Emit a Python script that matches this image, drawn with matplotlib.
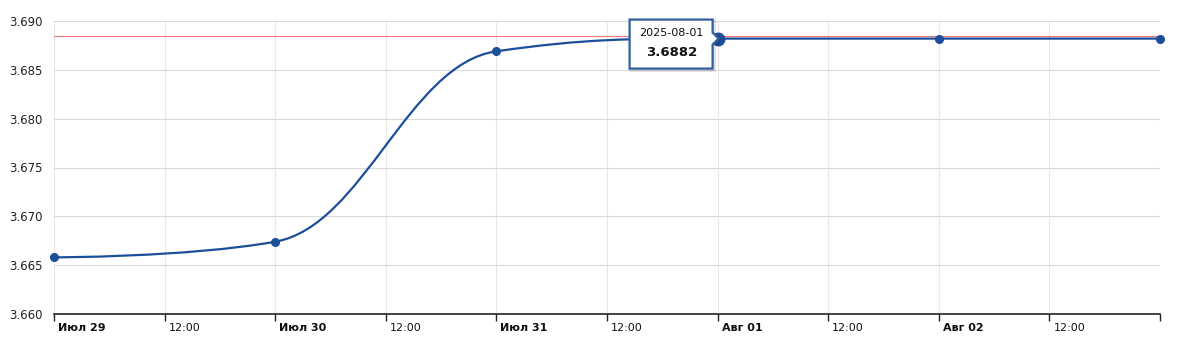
import matplotlib
matplotlib.use('Agg')
import matplotlib.pyplot as plt
import matplotlib.dates as mdates
import matplotlib.transforms as mtransforms
from matplotlib.path import Path
from matplotlib.patches import PathPatch, Polygon
import numpy as np
import pandas as pd

# data
dates = ['2025-07-29', '2025-07-30', '2025-07-31', '2025-08-01', '2025-08-02', '2025-08-03']
rates = [3.6658, 3.6674, 3.6869, 3.6882, 3.6882, 3.6882]
ref_level = 3.6885
hover_index = 3
tick_times = pd.date_range('2025-07-29', '2025-08-03', freq='12h')
tick_labels = ['Июл 29', '12:00', 'Июл 30', '12:00', 'Июл 31', '12:00',
               'Авг 01', '12:00', 'Авг 02', '12:00', '']
y_ticks = [3.660, 3.665, 3.670, 3.675, 3.680, 3.685, 3.690]

line_color = '#1c4f9a'


def spline_path(xs, ys, smoothing=1.5):
    ''' bezier spline like the web chart draws it '''
    n = len(xs)
    denom = smoothing + 1
    right = [None] * n
    left = [None] * n
    for i in range(1, n - 1):
        x, y = xs[i], ys[i]
        lx, ly = xs[i - 1], ys[i - 1]
        nx, ny = xs[i + 1], ys[i + 1]
        lcx = (smoothing * x + lx) / denom
        lcy = (smoothing * y + ly) / denom
        rcx = (smoothing * x + nx) / denom
        rcy = (smoothing * y + ny) / denom
        corr = (rcy - lcy) * (rcx - x) / (rcx - lcx) + y - rcy
        lcy += corr
        rcy += corr
        if lcy > ly and lcy > y:
            lcy = max(ly, y); rcy = 2 * y - lcy
        elif lcy < ly and lcy < y:
            lcy = min(ly, y); rcy = 2 * y - lcy
        if rcy > ny and rcy > y:
            rcy = max(ny, y); lcy = 2 * y - rcy
        elif rcy < ny and rcy < y:
            rcy = min(ny, y); lcy = 2 * y - rcy
        left[i] = (lcx, lcy)
        right[i] = (rcx, rcy)
    verts = [(xs[0], ys[0])]
    codes = [Path.MOVETO]
    for i in range(1, n):
        c1 = right[i - 1] if right[i - 1] is not None else (xs[i - 1], ys[i - 1])
        c2 = left[i] if left[i] is not None else (xs[i], ys[i])
        verts += [c1, c2, (xs[i], ys[i])]
        codes += [Path.CURVE4] * 3
    return Path(verts, codes)


fig = plt.figure(figsize=(11.85, 3.43), dpi=100)
ax = fig.add_axes([54 / 1185, 1 - 314 / 343, (1160 - 54) / 1185, (314 - 21) / 343])

xs = mdates.date2num(pd.to_datetime(dates))
ax.set_xlim(xs[0], xs[-1])
ax.set_ylim(3.660, 3.690)

# grid
ax.set_yticks(y_ticks)
ax.set_yticklabels(['%.3f' % v for v in y_ticks])
ax.set_xticks(mdates.date2num(tick_times))
ax.set_xticklabels(tick_labels)
ax.yaxis.grid(True, color='#d9d9d9', linewidth=0.8)
ax.xaxis.grid(True, color='#e8e8e8', linewidth=0.8)
ax.set_axisbelow(True)
for s in ['top', 'right', 'left']:
    ax.spines[s].set_visible(False)
ax.spines['bottom'].set_color('#222222')
ax.spines['bottom'].set_linewidth(1.2)
ax.tick_params(axis='y', length=0, pad=8, labelsize=8.5, labelcolor='#222222')
ax.tick_params(axis='x', length=5, width=1, color='#222222', pad=1.5,
               labelsize=8, labelcolor='#111111')
shift = mtransforms.ScaledTranslation(4 / 100, 0, fig.dpi_scale_trans)
for lab, txt in zip(ax.get_xticklabels(), tick_labels):
    lab.set_horizontalalignment('left')
    lab.set_transform(lab.get_transform() + shift)
    if txt != '12:00':
        lab.set_fontweight('bold')

# reference line
ax.axhline(ref_level, color='#f07878', linewidth=0.8, zorder=2)

# series
path = spline_path(list(xs), rates)
ax.add_patch(PathPatch(path, fill=False, edgecolor=line_color, linewidth=1.6, zorder=3))
ax.plot(xs, rates, 'o', color=line_color, markersize=5.5, zorder=4, clip_on=False)
ax.plot(xs[hover_index], rates[hover_index], 'o', color=line_color, markersize=9,
        zorder=5, clip_on=False)

# tooltip
hx, hy = xs[hover_index], rates[hover_index]
tt = mtransforms.IdentityTransform() + mtransforms.ScaledTranslation(hx, hy, ax.transData)
box = [(-88, 19), (-5, 19), (-5, 6), (1, 0), (-5, -6), (-5, -30), (-88, -30)]
shadow = mtransforms.IdentityTransform() + mtransforms.ScaledTranslation(hx, hy, ax.transData) \
    + mtransforms.Affine2D().translate(1.5, -1.5)
ax.add_patch(Polygon(box, closed=True, facecolor='none', edgecolor='#000000', alpha=0.12,
                     linewidth=2.5, transform=shadow, zorder=6, clip_on=False))
ax.add_patch(Polygon(box, closed=True, facecolor='white', edgecolor='#2f5f9f',
                     linewidth=1.6, transform=tt, zorder=6, clip_on=False))
ax.annotate(dates[hover_index], xy=(hx, hy), xytext=(-46, 6), textcoords='offset pixels',
            ha='center', va='center', fontsize=8, color='#111111', zorder=7)
ax.annotate('%.4f' % rates[hover_index], xy=(hx, hy), xytext=(-46, -14),
            textcoords='offset pixels', ha='center', va='center', fontsize=9.5,
            fontweight='bold', color='#111111', zorder=7)

fig.savefig('out.png', dpi=100)
